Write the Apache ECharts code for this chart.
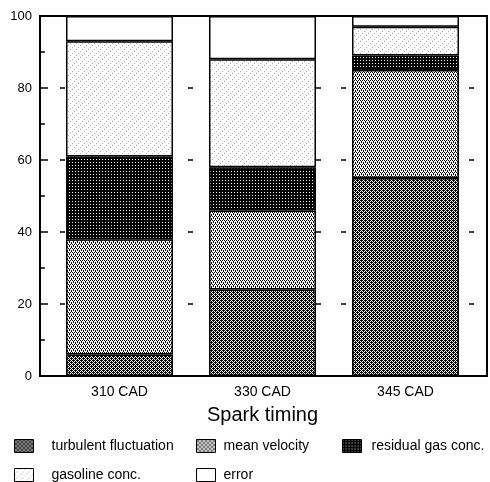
<!DOCTYPE html>
<html>
<head>
<meta charset="utf-8">
<script src="https://cdn.jsdelivr.net/npm/echarts@6/dist/echarts.min.js"></script>
<style>html,body{margin:0;padding:0;background:#fff}#c{width:490px;height:482px}</style>
</head>
<body>
<div id="c"></div>
<script>
// ---- data ----
var categories = ['310 CAD', '330 CAD', '345 CAD'];
var turbulentFluctuation = [6, 24, 55];
var meanVelocity = [32, 22, 30];
var residualGasConc = [23, 12, 4];
var gasolineConc = [32, 30, 8];
var errorPart = [7, 12, 3];
var seriesNames = ['turbulent fluctuation', 'mean velocity', 'residual gas conc.', 'gasoline conc.', 'error'];

// ---- patterns ----
function makeTile(w, h, bg, fg, test) {
  var c = document.createElement('canvas');
  c.width = w; c.height = h;
  var g = c.getContext('2d');
  g.fillStyle = bg; g.fillRect(0, 0, w, h);
  g.fillStyle = fg;
  for (var y = 0; y < h; y++) for (var x = 0; x < w; x++) if (test(x, y)) g.fillRect(x, y, 1, 1);
  return {image: c, repeat: 'repeat'};
}
var patTurb = makeTile(4, 4, '#ffffff', '#000000', function (x, y) { return (x + y) % 2 === 0 || (x === 1 && y === 0) || (x === 3 && y === 2); });
var patMean = makeTile(4, 4, '#ffffff', '#000000', function (x, y) { return ((y % 2 === 0) && ((x + (y / 2)) % 2 === 0)) || (x === 1 && y === 1) || (x === 3 && y === 3); });
var patResid = makeTile(3, 3, '#000000', '#ffffff', function (x, y) { return x === 0 && y === 0; });
var patGas = makeTile(6, 6, '#ffffff', '#b0b0b0', function (x, y) { return (x === 0 && y === 5) || (x === 2 && y === 3) || (x === 4 && y === 1); });
var patErr = '#ffffff';
var fills = [patTurb, patMean, patResid, patGas, patErr];
var values = [turbulentFluctuation, meanVelocity, residualGasConc, gasolineConc, errorPart];

var font = 'Liberation Sans';
var chart = echarts.init(document.getElementById('c'));
var series = seriesNames.map(function (name, i) {
  return {
    name: name,
    type: 'bar',
    stack: 'total',
    barWidth: 107,
    xAxisIndex: 0, yAxisIndex: 0,
    data: values[i],
    itemStyle: {color: fills[i], borderColor: '#000', borderWidth: 1.5},
    emphasis: {disabled: true},
    z: 3
  };
});
var legendPos = [[14, 439, 13], [196, 439, 3], [342, 439, 5], [14, 468, 13], [196, 468, 3]];
var legends = seriesNames.map(function (name, i) {
  return {
    orient: 'horizontal', left: legendPos[i][0], top: legendPos[i][1], padding: 0,
    itemWidth: 19, itemHeight: 13, icon: 'rect',
    data: [{name: name, itemStyle: {color: fills[i], borderColor: '#000', borderWidth: 1}}],
    selectedMode: false,
    itemStyle: {borderColor: '#000', borderWidth: 1},
    textStyle: {fontFamily: font, fontSize: 14, color: '#000', padding: [0, 0, 0, legendPos[i][2]]}
  };
});
chart.setOption({
  animation: false,
  grid: [
    {left: 48, right: 13, top: 16, bottom: 106},
    {left: 40, right: 3, top: 16, bottom: 106, show: true, borderColor: '#000', borderWidth: 2, backgroundColor: 'transparent', z: 5}
  ],
  xAxis: [{
    type: 'category', data: categories, gridIndex: 0,
    name: 'Spark timing', nameLocation: 'middle', nameGap: 29,
    nameTextStyle: {fontFamily: font, fontSize: 20, color: '#000'},
    axisLine: {show: true, lineStyle: {color: '#000', width: 2}},
    axisTick: {show: false},
    splitLine: {show: false},
    axisLabel: {fontFamily: font, fontSize: 14, color: '#000', margin: 9}
  }, {type: 'value', gridIndex: 1, show: false}],
  yAxis: [{
    type: 'value', min: 0, max: 100, interval: 20, gridIndex: 0, offset: 8,
    axisLine: {show: true, onZero: false, lineStyle: {color: '#000', width: 2}},
    axisTick: {show: true, inside: true, length: 8, lineStyle: {color: '#000', width: 1.5}},
    minorTick: {show: true, splitNumber: 2, length: 5, lineStyle: {color: '#000', width: 1.5}},
    splitLine: {show: true, lineStyle: {color: '#000', width: 1.5, type: [0, 12, 5, 20, 5, 86]}},
    axisLabel: {fontFamily: font, fontSize: 13, color: '#000', margin: 8}
  }, {type: 'value', gridIndex: 1, show: false}],
  legend: legends,
  series: series
});
</script>
</body>
</html>
